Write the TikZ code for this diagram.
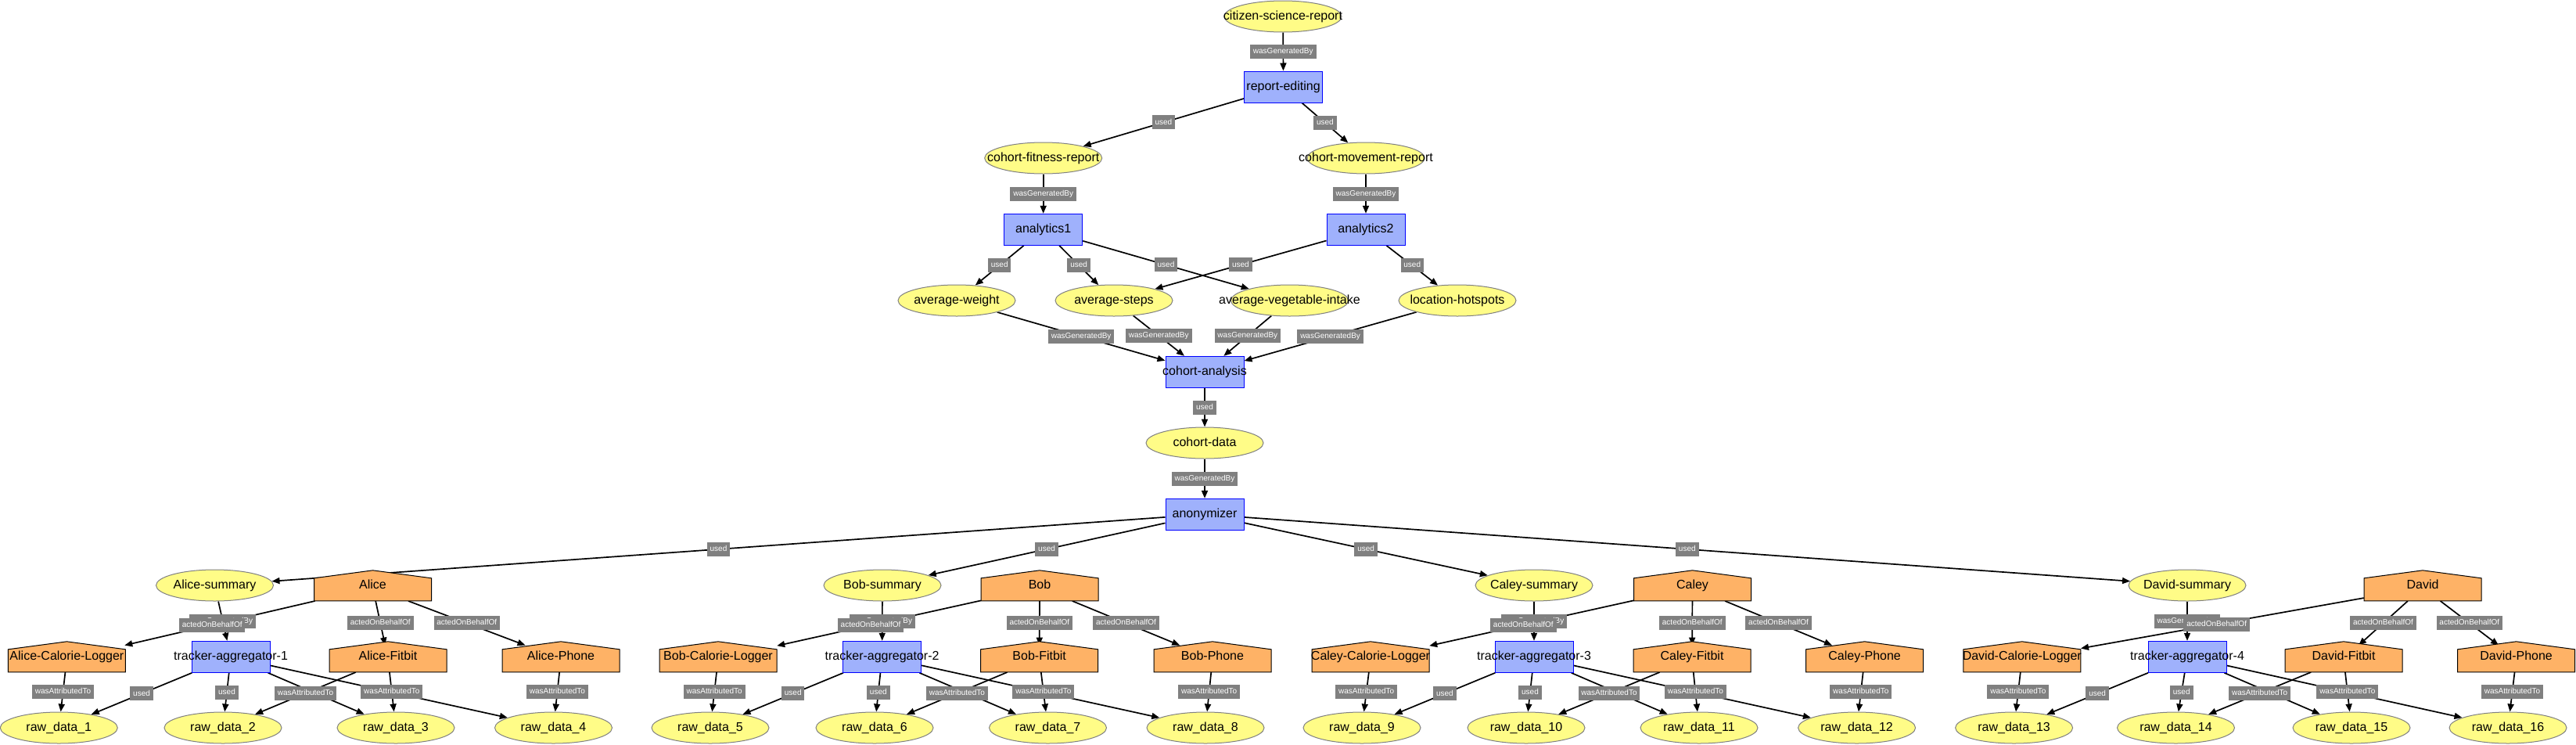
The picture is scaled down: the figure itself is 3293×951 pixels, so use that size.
\documentclass[tikz,border=0pt]{standalone}
\usepackage{fontspec}
\setmainfont{Liberation Sans}
\usetikzlibrary{arrows.meta,shapes.geometric}
\pgfdeclarelayer{background}
\pgfdeclarelayer{foreground}
\pgfsetlayers{background,main,foreground}
\definecolor{entfill}{HTML}{FFFC87}
\definecolor{entline}{HTML}{808080}
\definecolor{actfill}{HTML}{9FB1FC}
\definecolor{actline}{HTML}{0000FF}
\definecolor{agfill}{RGB}{254,178,102}
\definecolor{labfill}{HTML}{808080}
\newcommand\nt[1]{\makebox[0pt]{#1}}
\tikzset{
  nodefont/.style={font=\fontsize{16pt}{19pt}\selectfont, text height=11.5pt, text depth=3.4pt},
  ent/.style={ellipse, draw=entline, fill=entfill, line width=1pt, minimum width=150pt, minimum height=40pt, inner sep=0pt, nodefont},
  act/.style={rectangle, draw=actline, fill=actfill, line width=1pt, minimum width=100pt, minimum height=40pt, inner sep=0pt, nodefont},
  agclip/.style={rectangle, minimum width=150pt, minimum height=34pt, inner sep=0pt},
  agtext/.style={inner sep=0pt, nodefont},
  agshape/.style={draw=black, fill=agfill, line width=1pt},
  lab/.style={fill=labfill, text=white, font=\fontsize{10pt}{12pt}\selectfont, inner xsep=3.9pt, inner ysep=0pt, minimum height=18pt, text height=7.5pt, text depth=2.2pt},
  edgeline/.style={line width=1.7pt, -{Triangle[length=10pt,width=8pt]}}
}
\newcommand\edge[4][0.5]{%
  \begin{pgfonlayer}{background}\draw[edgeline] (#2) -- (#3);\end{pgfonlayer}%
  \begin{pgfonlayer}{foreground}\path (#2) -- node[lab,pos=#1] (l-#2-#3) {#4} (#3);\end{pgfonlayer}%
}
\newcommand\agent[4]{%
  \filldraw[agshape] (#2-75,#3+19.5) -- (#2-75,#3-9.5) -- (#2,#3-19.5) -- (#2+75,#3-9.5) -- (#2+75,#3+19.5) -- cycle;
  \node[agclip] (#1) at (#2,#3+2.5) {};
  \node[agtext] (#1-text) at (#2,#3) {\nt{#4}};
}
\begin{document}
\begin{tikzpicture}[x=1pt,y=-1pt]
\useasboundingbox (0,0) rectangle (3293,951);
\begin{pgfonlayer}{background}
\fill[white] (0,0) rectangle (3293,951);
\end{pgfonlayer}
% top part
\node[ent] (csr) at (1640,21) {\nt{citizen-science-report}};
\node[act] (re) at (1640.6,111) {\nt{report-editing}};
\node[ent] (cfr) at (1333.7,202) {\nt{cohort-fitness-report}};
\node[ent] (cmr) at (1746,202) {\nt{cohort-movement-report}};
\node[act] (a1) at (1333.7,293.3) {\nt{analytics1}};
\node[act] (a2) at (1746,293.3) {\nt{analytics2}};
\node[ent] (aw) at (1223,384) {\nt{average-weight}};
\node[ent] (as) at (1424,384) {\nt{average-steps}};
\node[ent] (avi) at (1648.5,384) {\nt{average-vegetable-intake}};
\node[ent] (lh) at (1863,384) {\nt{location-hotspots}};
\node[act] (ca) at (1540,475.3) {\nt{cohort-analysis}};
\node[ent] (cd) at (1540,566) {\nt{cohort-data}};
\node[act] (an) at (1540,657.3) {\nt{anonymizer}};
% Alice
\node[ent] (alice-s) at (274.5,748) {\nt{Alice-summary}};
\agent{alice}{476.5}{748.3}{Alice}
\agent{alice-cl}{85.4}{839.3}{Alice-Calorie-Logger}
\node[act] (t1) at (295,839.3) {\nt{tracker-aggregator-1}};
\agent{alice-fb}{496}{839.3}{Alice-Fitbit}
\agent{alice-ph}{717}{839.3}{Alice-Phone}
\node[ent] (raw1) at (75.3,930) {\nt{raw\_data\_1}};
\node[ent] (raw2) at (285,930) {\nt{raw\_data\_2}};
\node[ent] (raw3) at (506,930) {\nt{raw\_data\_3}};
\node[ent] (raw4) at (707.5,930) {\nt{raw\_data\_4}};
% Bob
\node[ent] (bob-s) at (1128,748) {\nt{Bob-summary}};
\agent{bob}{1329}{748.3}{Bob}
\agent{bob-cl}{918}{839.3}{Bob-Calorie-Logger}
\node[act] (t2) at (1127.6,839.3) {\nt{tracker-aggregator-2}};
\agent{bob-fb}{1328.7}{839.3}{Bob-Fitbit}
\agent{bob-ph}{1550}{839.3}{Bob-Phone}
\node[ent] (raw5) at (908,930) {\nt{raw\_data\_5}};
\node[ent] (raw6) at (1118,930) {\nt{raw\_data\_6}};
\node[ent] (raw7) at (1339.5,930) {\nt{raw\_data\_7}};
\node[ent] (raw8) at (1541,930) {\nt{raw\_data\_8}};
% Caley
\node[ent] (caley-s) at (1961,748) {\nt{Caley-summary}};
\agent{caley}{2163.5}{748.3}{Caley}
\agent{caley-cl}{1752}{839.3}{Caley-Calorie-Logger}
\node[act] (t3) at (1961,839.3) {\nt{tracker-aggregator-3}};
\agent{caley-fb}{2163}{839.3}{Caley-Fitbit}
\agent{caley-ph}{2383.6}{839.3}{Caley-Phone}
\node[ent] (raw9) at (1741,930) {\nt{raw\_data\_9}};
\node[ent] (raw10) at (1951,930) {\nt{raw\_data\_10}};
\node[ent] (raw11) at (2172,930) {\nt{raw\_data\_11}};
\node[ent] (raw12) at (2373.6,930) {\nt{raw\_data\_12}};
% David
\node[ent] (david-s) at (2796,748) {\nt{David-summary}};
\agent{david}{3097}{748.3}{David}
\agent{david-cl}{2584.8}{839.3}{David-Calorie-Logger}
\node[act] (t4) at (2796,839.3) {\nt{tracker-aggregator-4}};
\agent{david-fb}{2996}{839.3}{David-Fitbit}
\agent{david-ph}{3216.6}{839.3}{David-Phone}
\node[ent] (raw13) at (2574.6,930) {\nt{raw\_data\_13}};
\node[ent] (raw14) at (2781.5,930) {\nt{raw\_data\_14}};
\node[ent] (raw15) at (3006,930) {\nt{raw\_data\_15}};
\node[ent] (raw16) at (3206,930) {\nt{raw\_data\_16}};
% edges top
\edge{csr}{re}{wasGeneratedBy}
\edge{re}{cfr}{used}
\edge{re}{cmr}{used}
\edge{cfr}{a1}{wasGeneratedBy}
\edge{cmr}{a2}{wasGeneratedBy}
\edge{a1}{aw}{used}
\edge{a1}{as}{used}
\edge{a1}{avi}{used}
\edge{a2}{as}{used}
\edge{a2}{lh}{used}
\edge{aw}{ca}{wasGeneratedBy}
\edge{as}{ca}{wasGeneratedBy}
\edge{avi}{ca}{wasGeneratedBy}
\edge{lh}{ca}{wasGeneratedBy}
\edge{ca}{cd}{used}
\edge{cd}{an}{wasGeneratedBy}
% Alice edges
\edge{an}{alice-s}{used}
\edge{alice-s}{t1}{wasGeneratedBy}
\edge[0.54]{alice}{alice-cl}{actedOnBehalfOf}
\edge{alice}{alice-fb}{actedOnBehalfOf}
\edge{alice}{alice-ph}{actedOnBehalfOf}
\edge{alice-cl}{raw1}{wasAttributedTo}
\edge{t1}{raw1}{used}
\edge{t1}{raw2}{used}
\edge{t1}{raw3}{used}
\edge{t1}{raw4}{used}
\edge{alice-fb}{raw2}{wasAttributedTo}
\edge{alice-fb}{raw3}{wasAttributedTo}
\edge{alice-ph}{raw4}{wasAttributedTo}
% Bob edges
\edge{an}{bob-s}{used}
\edge{bob-s}{t2}{wasGeneratedBy}
\edge[0.54]{bob}{bob-cl}{actedOnBehalfOf}
\edge{bob}{bob-fb}{actedOnBehalfOf}
\edge{bob}{bob-ph}{actedOnBehalfOf}
\edge{bob-cl}{raw5}{wasAttributedTo}
\edge{t2}{raw5}{used}
\edge{t2}{raw6}{used}
\edge{t2}{raw7}{used}
\edge{t2}{raw8}{used}
\edge{bob-fb}{raw6}{wasAttributedTo}
\edge{bob-fb}{raw7}{wasAttributedTo}
\edge{bob-ph}{raw8}{wasAttributedTo}
% Caley edges
\edge{an}{caley-s}{used}
\edge{caley-s}{t3}{wasGeneratedBy}
\edge[0.54]{caley}{caley-cl}{actedOnBehalfOf}
\edge{caley}{caley-fb}{actedOnBehalfOf}
\edge{caley}{caley-ph}{actedOnBehalfOf}
\edge{caley-cl}{raw9}{wasAttributedTo}
\edge{t3}{raw9}{used}
\edge{t3}{raw10}{used}
\edge{t3}{raw11}{used}
\edge{t3}{raw12}{used}
\edge{caley-fb}{raw10}{wasAttributedTo}
\edge{caley-fb}{raw11}{wasAttributedTo}
\edge{caley-ph}{raw12}{wasAttributedTo}
% David edges
\edge{an}{david-s}{used}
\edge{david-s}{t4}{wasGeneratedBy}
\edge[0.52]{david}{david-cl}{actedOnBehalfOf}
\edge{david}{david-fb}{actedOnBehalfOf}
\edge{david}{david-ph}{actedOnBehalfOf}
\edge{david-cl}{raw13}{wasAttributedTo}
\edge{t4}{raw13}{used}
\edge{t4}{raw14}{used}
\edge{t4}{raw15}{used}
\edge{t4}{raw16}{used}
\edge{david-fb}{raw14}{wasAttributedTo}
\edge{david-fb}{raw15}{wasAttributedTo}
\edge{david-ph}{raw16}{wasAttributedTo}
\end{tikzpicture}
\end{document}
